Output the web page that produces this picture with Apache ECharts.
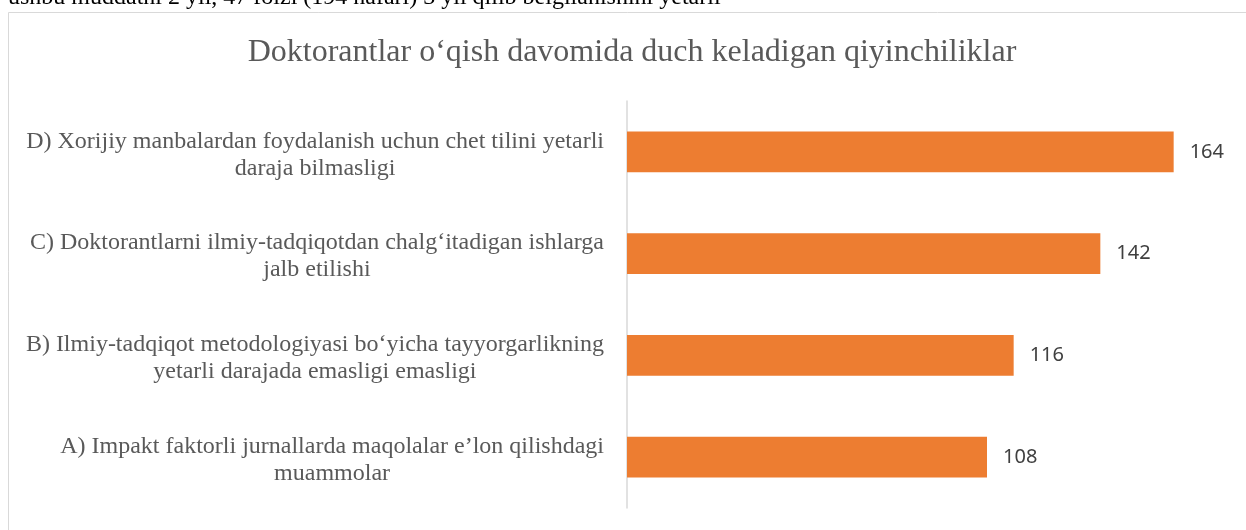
<!DOCTYPE html>
<html>
<head>
<meta charset="utf-8">
<script src="https://cdn.jsdelivr.net/npm/echarts@6/dist/echarts.min.js"></script>
<style>
  html, body { margin: 0; padding: 0; background: #fff; }
  #chart { width: 1246px; height: 530px; }
</style>
</head>
<body>
<div id="chart"></div>
<script>
// ma'lumotlar
var categories = [
    'A) Impakt faktorli jurnallarda maqolalar e\u2019lon qilishdagi\nmuammolar',
    'B) Ilmiy-tadqiqot metodologiyasi bo\u2018yicha tayyorgarlikning\nyetarli darajada emasligi emasligi',
    'C) Doktorantlarni ilmiy-tadqiqotdan chalg\u2018itadigan ishlarga\njalb etilishi',
    'D) Xorijiy manbalardan foydalanish uchun chet tilini yetarli\ndaraja bilmasligi'
];
var values = [108, 116, 142, 164];
var titleText = 'Doktorantlar o\u2018qish davomida duch keladigan qiyinchiliklar';
var topLine = 'ushbu muddatni 2 yil, 47 foizi (194 nafari) 3 yil qilib belgilanishini yetarli';

var chart = echarts.init(document.getElementById('chart'));

var option = {
    backgroundColor: '#fff',
    animation: false,
    graphic: [
        {
            type: 'rect',
            shape: { x: 8.5, y: 12.5, width: 1300, height: 600 },
            style: { fill: 'none', stroke: '#d9d9d9', lineWidth: 1 },
            silent: true
        },
        {
            type: 'text',
            x: 8, y: -2,
            style: {
                text: topLine,
                fill: '#000',
                font: '24px "Liberation Serif"',
                verticalAlign: 'middle'
            }
        }
    ],
    title: {
        text: titleText,
        left: 627,
        top: 32,
        textAlign: 'center',
        textStyle: {
            fontFamily: 'Liberation Serif',
            fontSize: 32,
            fontWeight: 'normal',
            color: '#595959'
        }
    },
    grid: {
        left: 627,
        top: 101,
        width: 600,
        height: 407
    },
    xAxis: {
        type: 'value',
        min: 0,
        max: 180,
        show: false,
        splitLine: { show: false }
    },
    yAxis: {
        type: 'category',
        data: categories,
        axisLine: { show: true, lineStyle: { color: '#d9d9d9', width: 1.5 } },
        axisTick: { show: false },
        axisLabel: {
            margin: 23,
            padding: [6, 0, 0, 0],
            formatter: function (v) { return '{a|' + v + '}'; },
            rich: {
                a: {
                    fontFamily: 'Liberation Serif',
                    fontSize: 24,
                    lineHeight: 27,
                    color: '#595959',
                    align: 'center'
                }
            }
        }
    },
    series: [
        {
            type: 'bar',
            data: values,
            barCategoryGap: '60%',
            itemStyle: { color: '#ed7d31' },
            label: {
                show: true,
                position: 'right',
                distance: 16,
                fontFamily: 'Noto Sans',
                fontSize: 20,
                color: '#404040'
            }
        }
    ]
};

chart.setOption(option, true);
</script>
</body>
</html>
